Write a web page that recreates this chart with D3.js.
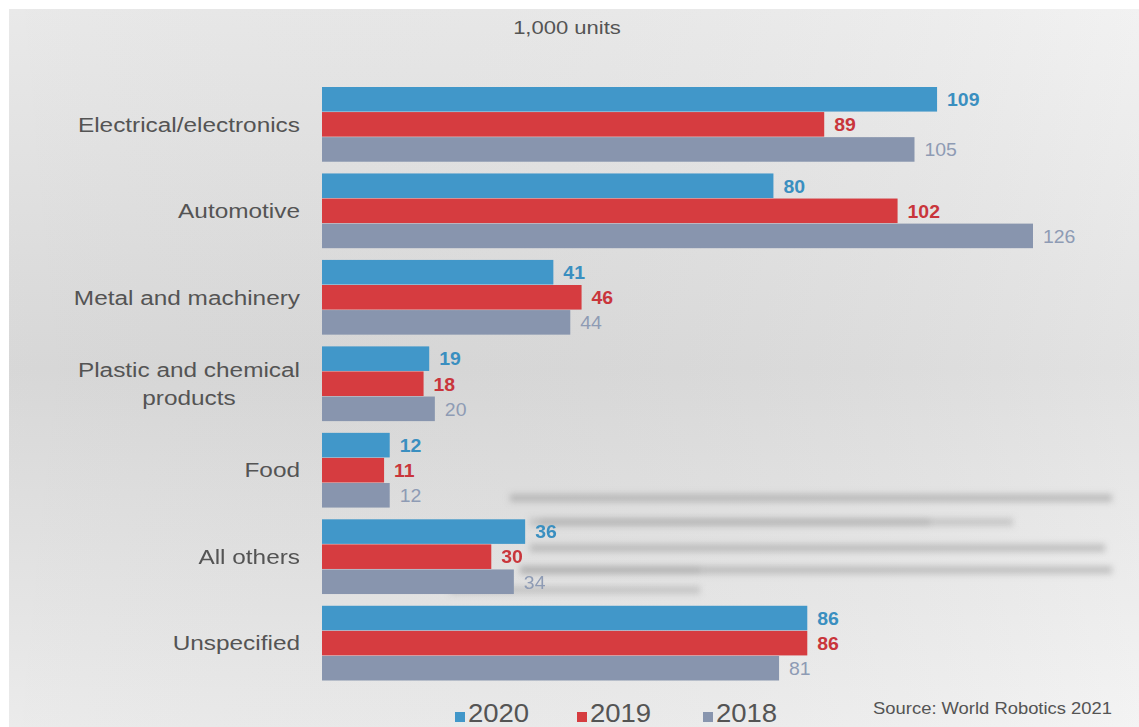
<!DOCTYPE html>
<html>
<head>
<meta charset="utf-8">
<script src="https://cdn.jsdelivr.net/npm/d3@7"></script>
<style>
  body { margin: 0; background: #fff; }
  svg { display: block; font-family: "Liberation Sans", Arial, sans-serif; }
</style>
</head>
<body>
<svg id="chart" width="1139" height="727"></svg>
<script>
// ---- data (1,000 units) ------------------------------------------------------
const categories = [
  ['Electrical/electronics'],
  ['Automotive'],
  ['Metal and machinery'],
  ['Plastic and chemical', 'products'],
  ['Food'],
  ['All others'],
  ['Unspecified']
];
const years = ['2020', '2019', '2018'];
const values2020 = [109, 80, 41, 19, 12, 36, 86];
const values2019 = [89, 102, 46, 18, 11, 30, 86];
const values2018 = [105, 126, 44, 20, 12, 34, 81];

const barColors = ['#4197c9', '#d63c40', '#8895ae'];
const labelColors = ['#3a8fc0', '#c9353b', '#8e9bb4'];
const labelWeights = ['bold', 'bold', 'normal'];

// ---------------------------------------------------------------------------
const svg = d3.select('#chart');
const W = 1139, H = 727;
const TXT = '#545454';

// background panel with soft gradients
const defs = svg.append('defs');
const grad = defs.append('linearGradient').attr('id', 'bg')
  .attr('x1', 0).attr('y1', 0).attr('x2', 0).attr('y2', 1);
grad.append('stop').attr('offset', '0%').attr('stop-color', '#f0f0f0');
grad.append('stop').attr('offset', '50%').attr('stop-color', '#dedede');
grad.append('stop').attr('offset', '100%').attr('stop-color', '#f2f2f2');

const hgrad = defs.append('linearGradient').attr('id', 'bgh')
  .attr('x1', 0).attr('y1', 0).attr('x2', 1).attr('y2', 0);
hgrad.append('stop').attr('offset', '0%').attr('stop-color', '#000').attr('stop-opacity', 0.03);
hgrad.append('stop').attr('offset', '100%').attr('stop-color', '#fff').attr('stop-opacity', 0.12);

defs.append('filter').attr('id', 'blur')
  .attr('x', '-10%').attr('y', '-300%').attr('width', '120%').attr('height', '700%')
  .append('feGaussianBlur').attr('stdDeviation', 3);

svg.append('rect').attr('x', 9).attr('y', 9).attr('width', W - 9).attr('height', H - 9)
  .attr('fill', 'url(#bg)');
svg.append('rect').attr('x', 9).attr('y', 9).attr('width', W - 9).attr('height', H - 9)
  .attr('fill', 'url(#bgh)');

// faint blurred streaks seen behind the lower bars
const streaks = [
  [510, 1112, 498, 0.55], [530, 1013, 522, 0.4], [540, 930, 522, 0.35],
  [530, 1105, 548, 0.5], [520, 1112, 570, 0.5], [520, 700, 570, 0.3],
  [450, 700, 590, 0.4]
];
svg.append('g').attr('filter', 'url(#blur)')
  .selectAll('rect').data(streaks).join('rect')
  .attr('x', d => d[0]).attr('y', d => d[2] - 4)
  .attr('width', d => d[1] - d[0]).attr('height', 8)
  .attr('fill', '#9a9a9a').attr('opacity', d => d[3]);

const x = d3.scaleLinear().domain([0, 126]).range([322, 1033]);
const y = d3.scaleBand().domain(d3.range(categories.length))
  .range([87, 681]).paddingInner(0.13).paddingOuter(0);
const ySub = d3.scaleBand().domain(years).range([0, y.bandwidth()]);

const series = [values2020, values2019, values2018];

// title
svg.append('text')
  .attr('transform', 'translate(567,34) scale(1.16,1)')
  .attr('text-anchor', 'middle').attr('font-size', 19).attr('fill', TXT)
  .text('1,000 units');

// bars + value labels
const groups = svg.selectAll('g.cat').data(categories).join('g')
  .attr('class', 'cat')
  .attr('transform', (d, i) => `translate(0,${y(i)})`);

years.forEach(function (yr, s) {
  groups.append('rect')
    .attr('x', x(0))
    .attr('y', ySub(yr))
    .attr('width', (d, i) => x(series[s][i]) - x(0))
    .attr('height', ySub.bandwidth() - 0.5)
    .attr('fill', barColors[s]);

  groups.append('text')
    .attr('transform', (d, i) =>
      `translate(${x(series[s][i]) + 10},${ySub(yr) + ySub.bandwidth() / 2 + 6.5}) scale(1.08,1)`)
    .attr('font-size', 18)
    .attr('font-weight', labelWeights[s])
    .attr('fill', labelColors[s])
    .text((d, i) => series[s][i]);
});

// category labels (centre-aligned block, right edge at x = 300)
const sx = 1.25;
groups.append('g')
  .attr('transform', `translate(300,${y.bandwidth() / 2 + 7}) scale(${sx},1)`)
  .each(function (d) {
    const g = d3.select(this);
    const n = d.length;
    const first = g.append('text').attr('font-size', 19.5).text(d[0]);
    const w = first.node().getComputedTextLength();
    d.forEach(function (line, k) {
      const t = k === 0 ? first : g.append('text').attr('font-size', 19.5).text(line);
      t.attr('fill', TXT)
        .attr('x', n > 1 ? -w / 2 : 0)
        .attr('text-anchor', n > 1 ? 'middle' : 'end')
        .attr('y', (k - (n - 1) / 2) * 28);
    });
  });

// legend
const legendX = [455, 577, 703];
const legend = svg.selectAll('g.leg').data(years).join('g')
  .attr('class', 'leg')
  .attr('transform', (d, i) => `translate(${legendX[i]},0)`);
legend.append('rect').attr('x', 0).attr('y', 712).attr('width', 10).attr('height', 10)
  .attr('fill', (d, i) => barColors[i]);
legend.append('text')
  .attr('transform', 'translate(13,722) scale(1.1,1)')
  .attr('font-size', 25).attr('fill', TXT)
  .text(d => d);

// source
svg.append('text')
  .attr('transform', 'translate(1112,714) scale(1.15,1)')
  .attr('text-anchor', 'end').attr('font-size', 16).attr('fill', TXT)
  .text('Source: World Robotics 2021');
</script>
</body>
</html>
